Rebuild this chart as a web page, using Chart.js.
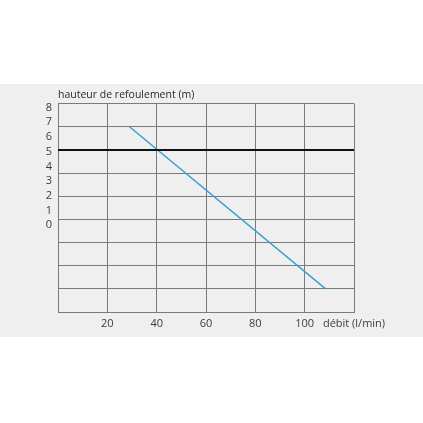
<!DOCTYPE html>
<html>
<head>
    <meta charset="utf-8">
    <title>Courbe de pompe</title>
    <script src="https://cdn.jsdelivr.net/npm/chart.js"></script>
    <style>
        body {
            margin: 0;
            background-color: #ffffff;
        }
        .band {
            position: absolute;
            left: 0;
            top: 84px;
            width: 423px;
            height: 253px;
            background-color: #efeff0; /* light grey strip behind the chart */
        }
        .wrap {
            position: absolute;
            left: 0;
            top: 0;
            width: 423px;
            height: 423px;
        }
    </style>
</head>
<body>
    <div class="band"></div>
    <div class="wrap"><canvas id="pumpChart"></canvas></div>

    <script>
        // x axis: débit (l/min), one grid column per 20 l/min
        var xTicks = [0, 20, 40, 60, 80, 100, 120];
        var xUnitLabel = 'débit (l/min)';

        // y axis labels as printed on the left side (not aligned with the grid)
        var yTickLabels = [0, 1, 2, 3, 4, 5, 6, 7, 8];
        var yLabelMin = -5.9;
        var yLabelMax = 8.27;

        // grid rows (one row per unit)
        var yGridMin = -2;
        var yGridMax = 7;

        // pump curve
        var curveX = [29, 108.5];
        var curveY = [6, -1];

        // black reference line
        var refLevel = 5;

        var ctx = document.getElementById('pumpChart').getContext('2d');
        new Chart(ctx, {
            type: 'line',
            data: {
                datasets: [
                    {
                        label: 'reference',
                        data: [{ x: xTicks[0], y: refLevel }, { x: xTicks[xTicks.length - 1], y: refLevel }],
                        borderColor: '#111111',
                        borderWidth: 2,
                        pointRadius: 0,
                        yAxisID: 'y'
                    },
                    {
                        label: 'courbe',
                        data: curveX.map(function(x, i) { return { x: x, y: curveY[i] }; }),
                        borderColor: '#3a9fd0',
                        borderWidth: 1.5,
                        pointRadius: 0,
                        yAxisID: 'y'
                    }
                ]
            },
            options: {
                responsive: true,
                maintainAspectRatio: false,
                animation: false,
                layout: {
                    padding: { left: 38, top: 89, right: 69, bottom: 91 }
                },
                plugins: {
                    legend: { display: false },
                    tooltip: { enabled: false },
                    title: {
                        display: true,
                        text: 'hauteur de refoulement (m)',
                        align: 'start',
                        fullSize: false,
                        color: '#2a2a2a',
                        font: { family: 'Open Sans', size: 10.5, weight: 'normal' },
                        padding: { top: 0, bottom: 2 }
                    }
                },
                scales: {
                    x: {
                        type: 'linear',
                        min: xTicks[0],
                        max: xTicks[xTicks.length - 1],
                        afterBuildTicks: function(axis) {
                            axis.ticks = xTicks.map(function(v) { return { value: v }; });
                        },
                        afterFit: function(axis) { axis.height = 20; },
                        grid: { color: '#7a7a7a', lineWidth: 1, drawTicks: false },
                        border: { color: '#7a7a7a' },
                        ticks: {
                            padding: 5,
                            maxRotation: 0,
                            autoSkip: false,
                            color: '#3c3c3c',
                            font: { family: 'Open Sans', size: 11 },
                            callback: function(value) {
                                if (value === xTicks[0]) return '';
                                if (value === xTicks[xTicks.length - 1]) return xUnitLabel;
                                return value;
                            }
                        }
                    },
                    y: {
                        position: 'left',
                        min: yGridMin,
                        max: yGridMax,
                        ticks: { display: false, stepSize: 1 },
                        grid: { color: '#7a7a7a', lineWidth: 1, drawTicks: false },
                        border: { color: '#7a7a7a' },
                        afterFit: function(axis) { axis.width = 0; }
                    },
                    yl: {
                        position: 'left',
                        min: yLabelMin,
                        max: yLabelMax,
                        afterBuildTicks: function(axis) {
                            axis.ticks = yTickLabels.map(function(v) { return { value: v }; });
                        },
                        afterFit: function(axis) { axis.width = 20; },
                        grid: { display: false, drawTicks: false },
                        border: { display: false },
                        ticks: {
                            padding: 6,
                            autoSkip: false,
                            color: '#3c3c3c',
                            font: { family: 'Open Sans', size: 11 }
                        }
                    }
                }
            }
        });
    </script>
</body>
</html>
